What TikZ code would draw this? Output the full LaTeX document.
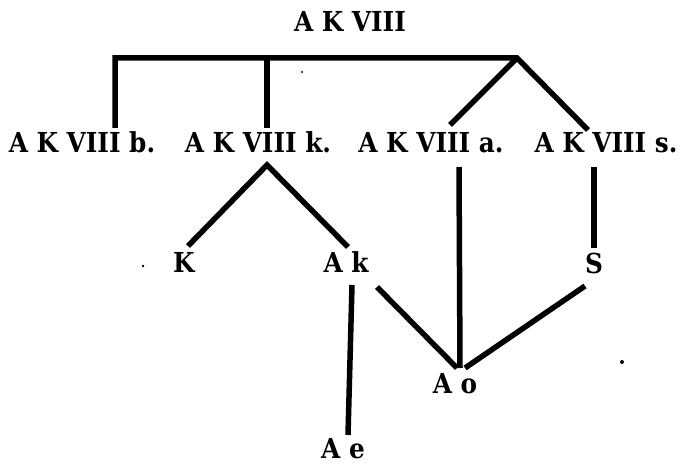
\documentclass[tikz,border=0pt]{standalone}
\usepackage{fontspec}
\setmainfont{DejaVu Serif Condensed}
\usetikzlibrary{calc}
\begin{document}
\begin{tikzpicture}[x=1pt,y=-1pt,
  lbl/.style={anchor=base,inner sep=0pt,outer sep=0pt,
    font=\bfseries\fontsize{27.5}{32}\selectfont},
  edge/.style={line width=5.5pt,line join=miter},
  speck/.style={fill=black}]
\useasboundingbox (0,0) rectangle (680,465);

% labels
\node[lbl] (top) at (350,32) {A K VIII};
\node[lbl] (b) at (82,153) {A K VIII b.};
\node[lbl] (k) at (258,153) {A K VIII k.};
\node[lbl] (a) at (431,153) {A K VIII a.};
\node[lbl] (s) at (606,153) {A K VIII s.};
\node[lbl] (K) at (184,272) {K};
\node[lbl] (Ak) at (346,272) {A k};
\node[lbl] (S) at (594,273) {S};
\node[lbl] (Ao) at (455,393) {A o};
\node[lbl] (Ae) at (343,458) {A e};

% junctions on the bar under the title
\coordinate (barL) at (115,58);
\coordinate (barK) at (267,58);
\coordinate (apex) at (517,58);

% bar with the outer branches
\draw[edge] ($(b.base)+(33,-25)$) -- (barL) -- (apex) -- ($(s.base)+(-18,-23)$);
\draw[edge] (barK) -- ($(k.base)+(9,-25)$);
\draw[edge] (apex) -- ($(a.base)+(19,-28)$);

% second level
\draw[edge] ($(K.base)+(4,-26)$) -- ($(k.base)+(9,12)$) -- ($(Ak.base)+(2,-25)$);
\draw[edge] ($(a.base)+(28,14)$) -- ($(Ao.base)+(5,-25)$);
\draw[edge] ($(s.base)+(-12,14)$) -- ($(S.base)+(0,-25)$);

% lower level
\draw[edge] ($(Ak.base)+(6,13)$) -- ($(Ae.base)+(5,-23)$);
\draw[edge] ($(Ak.base)+(31,15)$) -- ($(Ao.base)+(2,-25)$);
\draw[edge] ($(S.base)+(-9,13)$) -- ($(Ao.base)+(10,-25)$);

% printing specks
\fill[speck] (302,72) circle (1.1);
\fill[speck] (143,266) circle (1.4);
\fill[speck] (622,362) circle (2);
\end{tikzpicture}
\end{document}
